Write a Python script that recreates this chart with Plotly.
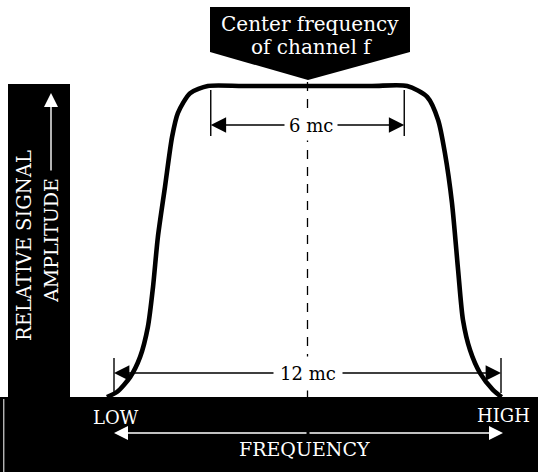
import plotly.graph_objects as go

# Relative response of one TV channel: offset from the centre frequency (mc)
freq_offset_mc = [-6.22, -5.91, -5.50, -5.19, -4.95, -4.79, -4.64, -4.42, -4.20,
                  -4.02, -3.64, -3.09, -2.0, 0.0, 2.0, 3.09, 3.71, 4.05, 4.26,
                  4.48, 4.67, 4.82, 5.04, 5.35, 5.75, 6.02]
rel_amplitude = [0.0, 0.016, 0.064, 0.129, 0.225, 0.354, 0.514, 0.675, 0.836,
                 0.913, 0.977, 1.0, 1.0, 1.0, 1.0, 1.0, 0.965, 0.891, 0.785,
                 0.624, 0.408, 0.248, 0.151, 0.077, 0.023, 0.0]

# Bandwidth dimensions (mc) and their labels
bandwidths_mc = [6, 12]
bandwidth_labels = ["6 mc", "12 mc"]

callout_lines = ["Center frequency", "of channel f"]
y_title_lines = ["RELATIVE SIGNAL", "AMPLITUDE"]
x_title = "FREQUENCY"
x_end_labels = ["LOW", "HIGH"]

# ---- page geometry (pixels) ----
W, H = 550, 472
CENTER_PX = 307.5   # x of the centre frequency
MC_PX = 32.25       # pixels per mc
BASE_PX = 397       # y of zero amplitude
AMP_PX = 311        # pixels per unit amplitude

FONT = "DejaVu Serif"


def px(x):
    return x / W


def py(y):
    return 1 - y / H


def amp_of(y):
    return (BASE_PX - y) / AMP_PX


fig = go.Figure()
fig.add_trace(go.Scatter(
    x=freq_offset_mc, y=rel_amplitude, mode="lines",
    line=dict(color="black", width=4.6, shape="spline", smoothing=0.7),
    hoverinfo="skip", showlegend=False,
))

shapes = []
annotations = []


def label(x, y, text, size, color="white", angle=0, **kw):
    annotations.append(dict(x=x, y=y, xref=kw.pop("xref", "paper"),
                            yref=kw.pop("yref", "paper"), text=text,
                            textangle=angle, showarrow=False,
                            xanchor="center", yanchor="middle",
                            font=dict(family=FONT, size=size, color=color), **kw))


def arrow(x, y, ax, ay, color, **kw):
    annotations.append(dict(x=x, y=y, ax=ax, ay=ay, text="", showarrow=True,
                            arrowhead=2, arrowsize=kw.pop("size", 2.0),
                            arrowwidth=1.4, arrowcolor=color, standoff=0, **kw))


# dashed centre line up to the callout tip
shapes.append(dict(type="line", xref="x", yref="y", x0=0, x1=0,
                   y0=0, y1=amp_of(80), layer="below",
                   line=dict(color="black", width=1.3, dash="9px,8px")))

# bandwidth dimension lines
dim_rows = [
    dict(line=amp_of(125), tick=(amp_of(90), amp_of(136)), label_x=0.11, pad=4),
    dict(line=amp_of(373), tick=(amp_of(358), amp_of(393)), label_x=0.0, pad=6),
]
for bw, lab, row in zip(bandwidths_mc, bandwidth_labels, dim_rows):
    half = bw / 2
    for side in (-1, 1):
        shapes.append(dict(type="line", xref="x", yref="y",
                           x0=side * half, x1=side * half,
                           y0=row["tick"][0], y1=row["tick"][1],
                           line=dict(color="black", width=1.4)))
        arrow(side * half, row["line"], row["label_x"], row["line"], "black",
              xref="x", yref="y", axref="x", ayref="y", size=2.2)
    label(row["label_x"], row["line"], lab, 18, color="black",
          xref="x", yref="y", bgcolor="white", borderpad=row["pad"])

# black L-shaped axis bars
shapes.append(dict(type="rect", xref="paper", yref="paper",
                   x0=px(8), x1=px(70), y0=py(BASE_PX), y1=py(84),
                   fillcolor="black", line=dict(width=0)))
shapes.append(dict(type="rect", xref="paper", yref="paper",
                   x0=px(0), x1=px(538), y0=py(H), y1=py(BASE_PX),
                   fillcolor="black", line=dict(width=0)))
shapes.append(dict(type="line", xref="paper", yref="paper",
                   x0=px(3.8), x1=px(3.8), y0=py(399), y1=py(H),
                   line=dict(color="white", width=1)))

# callout pointing at the centre frequency
pts = [(210, 7), (410, 7), (410, 52), (308, 80), (210, 52)]
path = "M " + " L ".join(f"{px(a):.5f},{py(b):.5f}" for a, b in pts) + " Z"
shapes.append(dict(type="path", xref="paper", yref="paper", path=path,
                   fillcolor="black", line=dict(width=0)))

label(px(310), py(24), callout_lines[0], 20)
label(px(311), py(47), callout_lines[1], 20)

# vertical axis title with its arrow
label(px(24), py(246), y_title_lines[0], 19.5, angle=-90)
label(px(51), py(241), y_title_lines[1], 19, angle=-90)
arrow(px(51), py(93), 0, 79, "white", xref="paper", yref="paper")

# horizontal axis labels and double arrow
label(px(115.5), py(417), x_end_labels[0], 18)
label(px(503), py(415), x_end_labels[1], 18)
for tip in (114, 503):
    arrow(px(tip), py(433), 308 - tip, 0, "white", xref="paper", yref="paper")
label(px(304), py(449), x_title, 19)

fig.update_layout(
    width=W, height=H,
    margin=dict(l=0, r=0, t=0, b=0),
    paper_bgcolor="white", plot_bgcolor="white",
    xaxis=dict(range=[(0 - CENTER_PX) / MC_PX, (W - CENTER_PX) / MC_PX],
               visible=False, fixedrange=True),
    yaxis=dict(range=[(BASE_PX - H) / AMP_PX, BASE_PX / AMP_PX],
               visible=False, fixedrange=True),
    shapes=shapes, annotations=annotations,
    showlegend=False,
)

fig.write_html("out.html", config={"displayModeBar": False})
